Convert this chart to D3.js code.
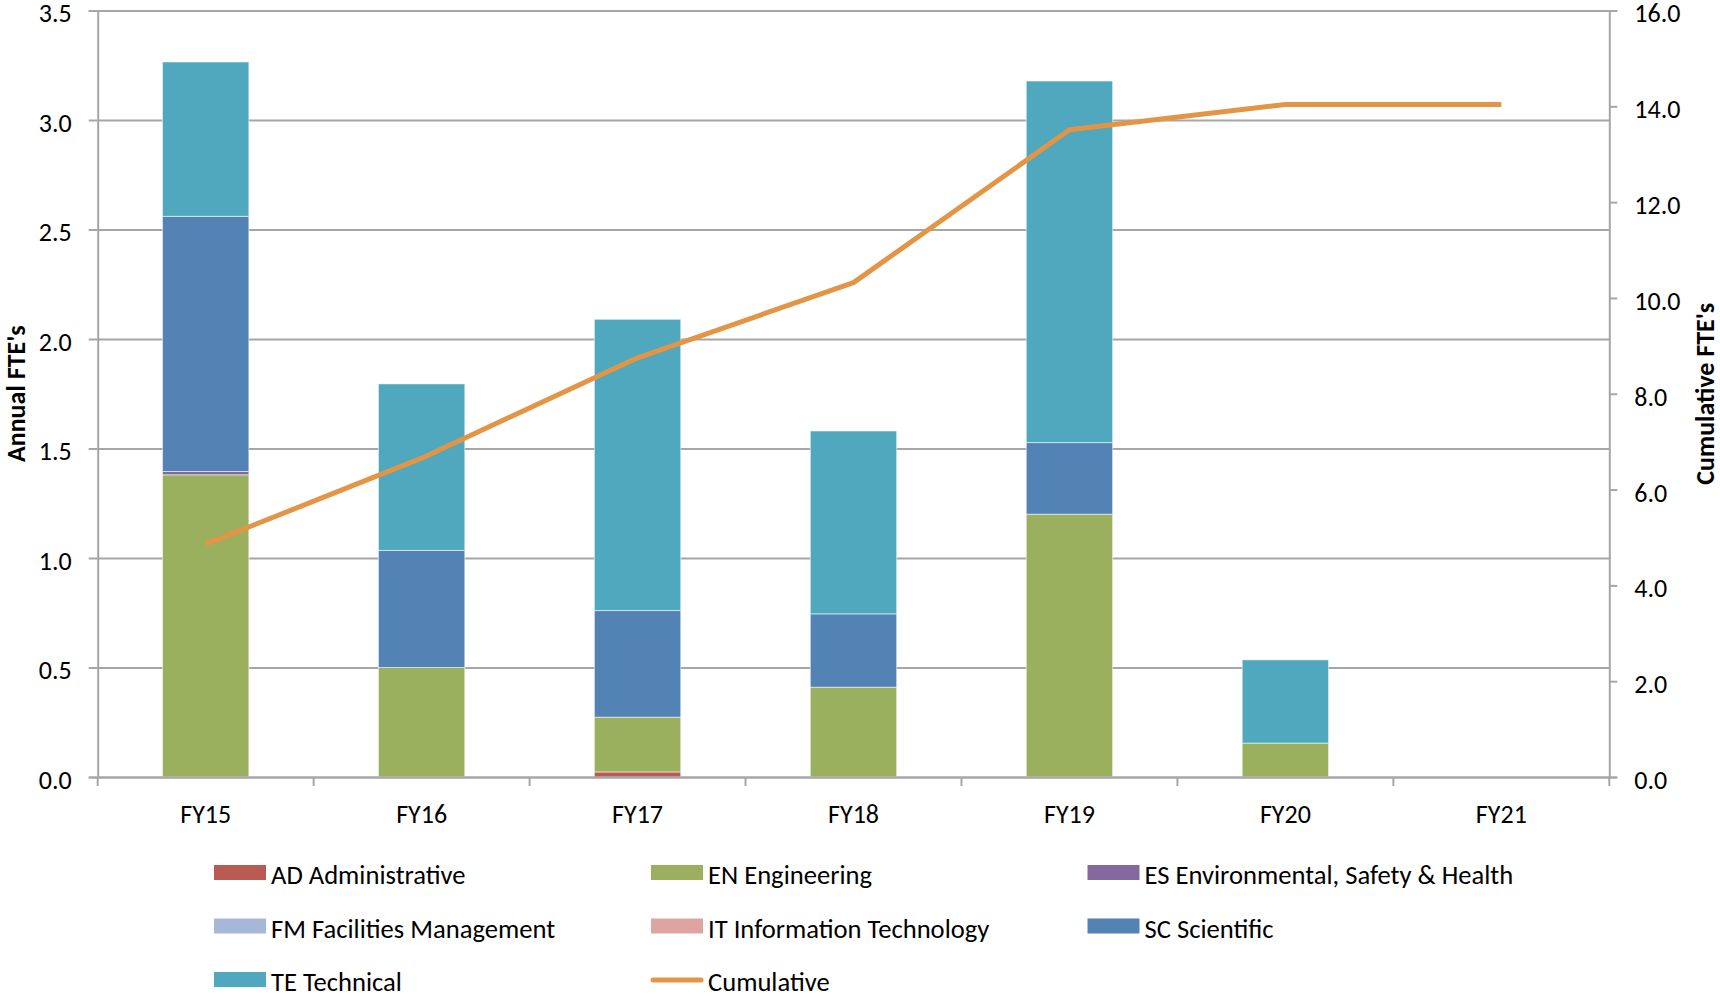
<!DOCTYPE html>
<html>
<head>
<meta charset="utf-8">
<script src="https://cdn.jsdelivr.net/npm/d3@7"></script>
<style>
  html, body { margin: 0; padding: 0; background: #fff; }
  svg { display: block; }
  text { font-family: Carlito, Calibri, Lato, "Open Sans", sans-serif; fill: #000; }
</style>
</head>
<body>
<svg id="chart" width="1720" height="997"></svg>
<script>
// Fiscal years on the category axis
const categories = ["FY15", "FY16", "FY17", "FY18", "FY19", "FY20", "FY21"];

// Annual FTEs by labour category (stacked bars, bottom to top)
const adAdministrative = [0, 0, 0.023, 0, 0, 0, 0];
const enEngineering    = [1.38, 0.5, 0.25, 0.41, 1.2, 0.155, 0];
const esEnvironmental  = [0.015, 0, 0, 0, 0, 0, 0];
const fmFacilities     = [0, 0, 0, 0, 0, 0, 0];
const itInformation    = [0, 0, 0, 0, 0, 0, 0];
const scScientific     = [1.165, 0.535, 0.487, 0.335, 0.327, 0, 0];
const teTechnical      = [0.705, 0.76, 1.33, 0.835, 1.651, 0.38, 0];

// Running total of FTEs (right axis)
const cumulative = [4.86, 6.655, 8.75, 10.32, 13.51, 14.04, 14.04];

// Axis tick values
const leftTicks = [0, 0.5, 1, 1.5, 2, 2.5, 3, 3.5];
const rightTicks = [0, 2, 4, 6, 8, 10, 12, 14, 16];

const seriesNames = ["AD Administrative", "EN Engineering", "ES Environmental, Safety & Health",
                     "FM Facilities Management", "IT Information Technology", "SC Scientific", "TE Technical"];
const seriesValues = [adAdministrative, enEngineering, esEnvironmental, fmFacilities,
                      itInformation, scScientific, teTechnical];
const seriesColors = ["#b95b53", "#9bb05e", "#85699e", "#a5b8d8", "#dca5a2", "#5383b5", "#4fa8be"];
const lineColor = "#e39545";

const svg = d3.select("#chart");
const plot = { left: 97.7, right: 1609.3, top: 10.5, bottom: 777 };
const gridColor = "#a6a6a6";
const fontSize = "26px";
const legendFontSize = "26.6px";

// Scales
const xOuter = d3.scaleBand().domain(categories).range([plot.left, plot.right]).padding(0);
const xBar = d3.scaleBand().domain(categories).range([plot.left, plot.right])
  .paddingInner(0.6).paddingOuter(0.3);
const yLeft = d3.scaleLinear().domain([0, 3.5]).range([plot.bottom, plot.top]);
const yRight = d3.scaleLinear().domain([0, 16]).range([plot.bottom, plot.top]);

// Horizontal gridlines from the left axis
const grid = svg.append("g")
  .attr("transform", `translate(${plot.left},0)`)
  .call(d3.axisLeft(yLeft).tickValues(leftTicks).tickSize(-(plot.right - plot.left)).tickFormat(""));
grid.select(".domain").remove();
grid.selectAll(".tick line").attr("stroke", gridColor).attr("stroke-width", 2);

// Stacked bars
const rows = categories.map((c, i) => {
  const r = { cat: c };
  seriesNames.forEach((n, k) => { r[n] = seriesValues[k][i]; });
  return r;
});
const stack = d3.stack().keys(seriesNames)(rows);
svg.append("g").selectAll("g").data(stack).join("g")
  .attr("fill", (d, k) => seriesColors[k])
  .selectAll("rect").data(d => d.filter(p => p[1] - p[0] > 0)).join("rect")
  .attr("x", d => xBar(d.data.cat))
  .attr("width", xBar.bandwidth())
  .attr("y", d => yLeft(d[1]))
  .attr("height", d => yLeft(d[0]) - yLeft(d[1]))
  .attr("stroke", "#ffffff").attr("stroke-opacity", 0.55).attr("stroke-width", 1);

// Left axis
const leftAxis = svg.append("g")
  .attr("transform", `translate(${plot.left},0)`)
  .call(d3.axisLeft(yLeft).tickValues(leftTicks).tickSize(9).tickPadding(17).tickFormat(d3.format(".1f")));
leftAxis.select(".domain").attr("stroke", gridColor).attr("stroke-width", 2);
leftAxis.selectAll(".tick line").attr("stroke", gridColor).attr("stroke-width", 2);
leftAxis.selectAll("text").style("font-size", fontSize).attr("fill", "#000").attr("dy", "0.44em");

// Right axis
const rightAxis = svg.append("g")
  .attr("transform", `translate(${plot.right},0)`)
  .call(d3.axisRight(yRight).tickValues(rightTicks).tickSize(8).tickPadding(17).tickFormat(d3.format(".1f")));
rightAxis.select(".domain").attr("stroke", gridColor).attr("stroke-width", 2);
rightAxis.selectAll(".tick line").attr("stroke", gridColor).attr("stroke-width", 2);
rightAxis.selectAll("text").style("font-size", fontSize).attr("fill", "#000").attr("dy", "0.44em");

// Category axis: baseline, labels, and ticks on band boundaries
const bottomAxis = svg.append("g")
  .attr("transform", `translate(0,${plot.bottom})`)
  .call(d3.axisBottom(xOuter).tickSize(0).tickPadding(28));
bottomAxis.select(".domain").attr("stroke", gridColor).attr("stroke-width", 2);
bottomAxis.selectAll("text").style("font-size", fontSize).attr("fill", "#000");
const boundaries = categories.map(c => xOuter(c)).concat([xOuter(categories[categories.length - 1]) + xOuter.bandwidth()]);
svg.append("g").selectAll("line").data(boundaries).join("line")
  .attr("x1", d => d).attr("x2", d => d)
  .attr("y1", plot.bottom).attr("y2", plot.bottom + 9)
  .attr("stroke", gridColor).attr("stroke-width", 2);

// Cumulative line
const line = d3.line()
  .x((d, i) => xOuter(categories[i]) + xOuter.bandwidth() / 2)
  .y(d => yRight(d));
svg.append("path").datum(cumulative)
  .attr("d", line)
  .attr("fill", "none")
  .attr("stroke", lineColor)
  .attr("stroke-width", 5)
  .attr("stroke-linejoin", "round");

// Axis titles
const midY = (plot.top + plot.bottom) / 2;
svg.append("text")
  .attr("transform", `translate(25,${midY}) rotate(-90)`)
  .attr("text-anchor", "middle")
  .style("font-size", fontSize).style("font-weight", "bold")
  .text("Annual FTE's");
svg.append("text")
  .attr("transform", `translate(1714,${midY}) rotate(-90)`)
  .attr("text-anchor", "middle")
  .style("font-size", fontSize).style("font-weight", "bold")
  .text("Cumulative FTE's");

// Legend: three columns, row-major
const legendItems = seriesNames.map((n, k) => ({ name: n, color: seriesColors[k], kind: "rect" }))
  .concat([{ name: "Cumulative", color: lineColor, kind: "line" }]);
const legend = svg.append("g");
const colX = [214, 651, 1087.5];
const rowY = [865, 918.5, 972];
legendItems.forEach((it, i) => {
  const g = legend.append("g")
    .attr("transform", `translate(${colX[i % 3]},${rowY[Math.floor(i / 3)]})`);
  if (it.kind === "rect") {
    g.append("rect").attr("x", 0).attr("y", 0).attr("width", 52).attr("height", 15).attr("fill", it.color);
  } else {
    g.append("line").attr("x1", 2).attr("x2", 50).attr("y1", 8).attr("y2", 8)
      .attr("stroke", it.color).attr("stroke-width", 5).attr("stroke-linecap", "round");
  }
  g.append("text").attr("x", 57).attr("y", 19).style("font-size", legendFontSize).text(it.name);
});
</script>
</body>
</html>
